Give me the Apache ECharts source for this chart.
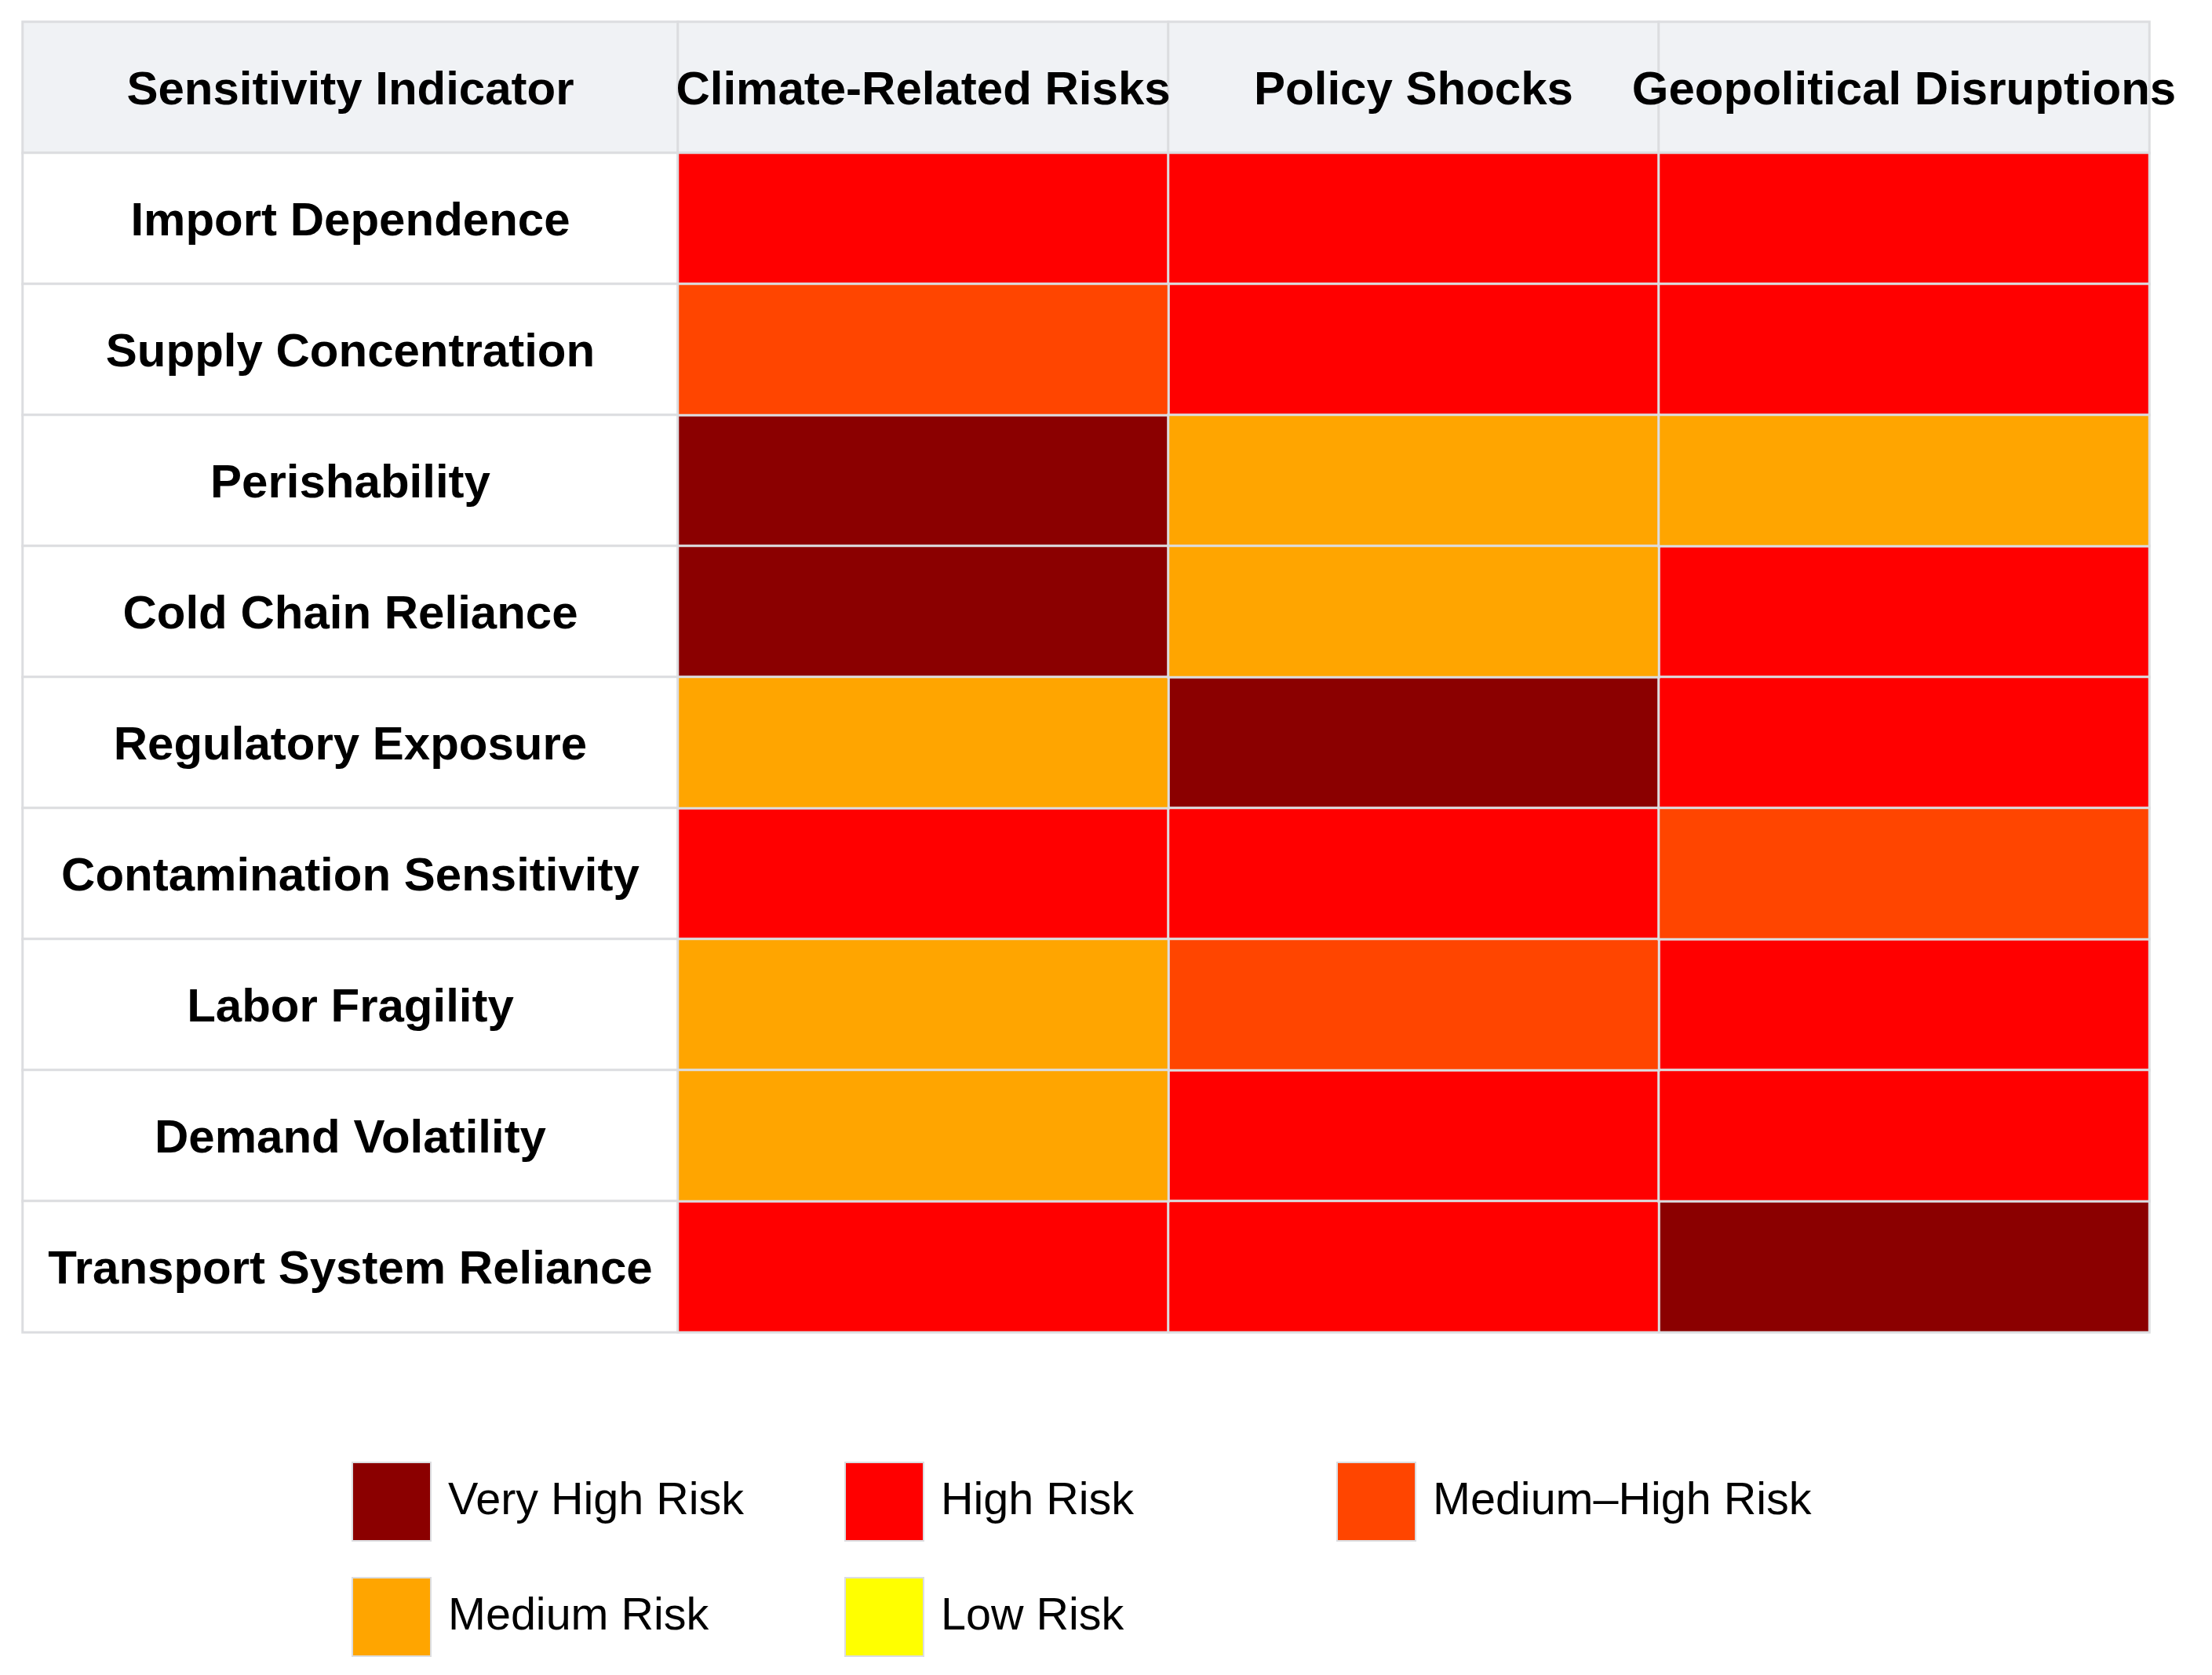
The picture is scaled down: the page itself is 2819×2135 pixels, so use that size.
<!DOCTYPE html>
<html>
<head>
<meta charset="utf-8">
<script src="https://cdn.jsdelivr.net/npm/echarts@6/dist/echarts.min.js"></script>
<style>
html,body{margin:0;padding:0;background:#fff;}
#chart{width:2819px;height:2135px;}
</style>
</head>
<body>
<div id="chart"></div>
<script>
const headerLabel = 'Sensitivity Indicator';
const categories = ['Climate-Related Risks', 'Policy Shocks', 'Geopolitical Disruptions'];
const indicators = ['Import Dependence', 'Supply Concentration', 'Perishability', 'Cold Chain Reliance',
  'Regulatory Exposure', 'Contamination Sensitivity', 'Labor Fragility', 'Demand Volatility',
  'Transport System Reliance'];
const levels = ['Very High Risk', 'High Risk', 'Medium\u2013High Risk', 'Medium Risk', 'Low Risk'];
const levelColors = ['#8b0000', '#ff0000', '#ff4500', '#ffa500', '#ffff00'];
const climateRisk = ['High Risk', 'Medium\u2013High Risk', 'Very High Risk', 'Very High Risk', 'Medium Risk',
  'High Risk', 'Medium Risk', 'Medium Risk', 'High Risk'];
const policyRisk = ['High Risk', 'High Risk', 'Medium Risk', 'Medium Risk', 'Very High Risk',
  'High Risk', 'Medium\u2013High Risk', 'High Risk', 'High Risk'];
const geoRisk = ['High Risk', 'High Risk', 'Medium Risk', 'High Risk', 'High Risk',
  'Medium\u2013High Risk', 'High Risk', 'High Risk', 'Very High Risk'];

const columns = [climateRisk, policyRisk, geoRisk];
const rowsY = ['header'].concat(indicators);
const FONT = "'Liberation Sans', Arial, sans-serif";
const BORDER = '#dcdde0';
const HEADER_BG = '#f0f2f5';

const levelSeries = levels.map((lv, li) => {
  const data = [];
  columns.forEach((col, ci) => {
    col.forEach((v, ri) => { if (v === lv) data.push([ci, ri + 1, li]); });
  });
  return {
    name: lv, type: 'heatmap', xAxisIndex: 1, yAxisIndex: 1, data: data,
    itemStyle: { color: levelColors[li], borderColor: BORDER, borderWidth: 3 },
    label: { show: false }, emphasis: { disabled: true }, silent: true
  };
});

const textStyleTable = { color: '#000', fontFamily: FONT, fontWeight: 'bold', fontSize: 60, offset: [0, 5] };

const headerSeries = {
  name: 'header', type: 'heatmap', xAxisIndex: 1, yAxisIndex: 1,
  data: categories.map((c, i) => [i, 0, 0]),
  itemStyle: { color: HEADER_BG, borderColor: BORDER, borderWidth: 3 },
  label: Object.assign({ show: true, formatter: p => categories[p.value[0]] }, textStyleTable),
  emphasis: { disabled: true }, silent: true
};

const labelSeries = {
  name: 'labels', type: 'heatmap', xAxisIndex: 0, yAxisIndex: 0,
  data: rowsY.map((r, i) => ({ value: [0, i, 0], itemStyle: { color: i === 0 ? HEADER_BG : '#ffffff' } })),
  itemStyle: { borderColor: BORDER, borderWidth: 3 },
  label: Object.assign({ show: true,
    formatter: p => p.value[1] === 0 ? headerLabel : indicators[p.value[1] - 1] }, textStyleTable),
  emphasis: { disabled: true }, silent: true
};

const legendPos = [[448, 1863], [1076, 1863], [1703, 1863], [448, 2010], [1076, 2010]];
const legends = levels.map((lv, i) => ({
  data: [lv], left: legendPos[i][0], top: legendPos[i][1], padding: 0,
  icon: 'rect', itemWidth: 100, itemHeight: 100, selectedMode: false,
  textStyle: { fontFamily: FONT, fontSize: 57.5, color: '#000', padding: [16, 0, 0, 17] }
}));

const chart = echarts.init(document.getElementById('chart'));
chart.setOption({
  backgroundColor: '#ffffff',
  animation: false,
  grid: [
    { left: 29, top: 28, width: 835, height: 1670 },
    { left: 864, top: 28, width: 1875, height: 1670 }
  ],
  xAxis: [
    { type: 'category', gridIndex: 0, data: [headerLabel], show: false },
    { type: 'category', gridIndex: 1, data: categories, show: false }
  ],
  yAxis: [
    { type: 'category', gridIndex: 0, data: rowsY, inverse: true, show: false },
    { type: 'category', gridIndex: 1, data: rowsY, inverse: true, show: false }
  ],
  legend: legends,
  series: [labelSeries, headerSeries].concat(levelSeries)
});
</script>
</body>
</html>
